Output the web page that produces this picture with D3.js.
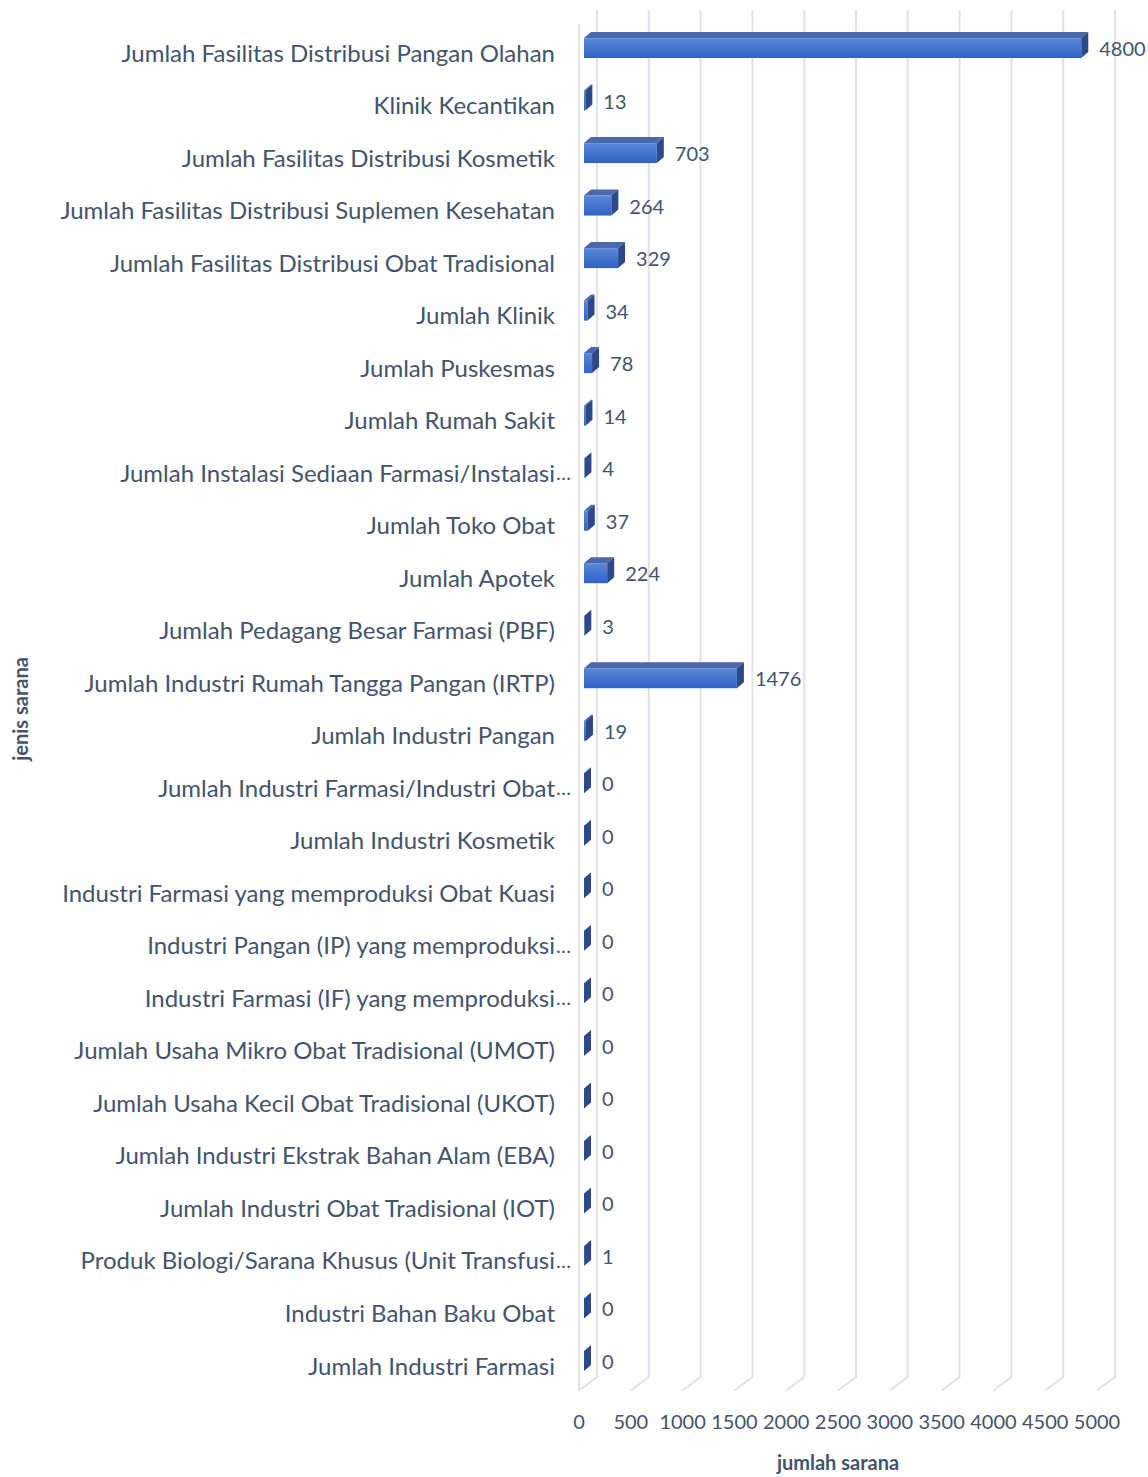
<!doctype html>
<html lang="id">
<head>
<meta charset="utf-8">
<title>jumlah sarana per jenis sarana</title>
<script src="https://cdn.jsdelivr.net/npm/d3@7"></script>
<style>
  body { margin: 0; background: #fff; }
  svg { display: block; }
</style>
</head>
<body>
<svg id="chart" width="1148" height="1477"></svg>
<script>
// categories, top to bottom
const categories = [
  "Jumlah Fasilitas Distribusi Pangan Olahan",
  "Klinik Kecantikan",
  "Jumlah Fasilitas Distribusi Kosmetik",
  "Jumlah Fasilitas Distribusi Suplemen Kesehatan",
  "Jumlah Fasilitas Distribusi Obat Tradisional",
  "Jumlah Klinik",
  "Jumlah Puskesmas",
  "Jumlah Rumah Sakit",
  "Jumlah Instalasi Sediaan Farmasi/Instalasi…",
  "Jumlah Toko Obat",
  "Jumlah Apotek",
  "Jumlah Pedagang Besar Farmasi (PBF)",
  "Jumlah Industri Rumah Tangga Pangan (IRTP)",
  "Jumlah Industri Pangan",
  "Jumlah Industri Farmasi/Industri Obat…",
  "Jumlah Industri Kosmetik",
  "Industri Farmasi yang memproduksi Obat Kuasi",
  "Industri Pangan (IP) yang memproduksi…",
  "Industri Farmasi (IF) yang memproduksi…",
  "Jumlah Usaha Mikro Obat Tradisional (UMOT)",
  "Jumlah Usaha Kecil Obat Tradisional (UKOT)",
  "Jumlah Industri Ekstrak Bahan Alam (EBA)",
  "Jumlah Industri Obat Tradisional (IOT)",
  "Produk Biologi/Sarana Khusus (Unit Transfusi…",
  "Industri Bahan Baku Obat",
  "Jumlah Industri Farmasi"
];
const values = [4800, 13, 703, 264, 329, 34, 78, 14, 4, 37, 224, 3, 1476, 19, 0, 0, 0, 0, 0, 0, 0, 0, 0, 1, 0, 0];
const xTicks = [0, 500, 1000, 1500, 2000, 2500, 3000, 3500, 4000, 4500, 5000];
const xTitle = "jumlah sarana";
const yTitle = "jenis sarana";

const svg = d3.select("#chart");
const textCol = "#44546a";
const gridCol = "#dfe2e9";

// 3D depth: front plane is shifted (-18, +13.5) from the back wall
const depthX = -18, depthY = 13.5;
const wallTop = 10, wallBottom = 1377;

const xBack = d3.scaleLinear().domain([0, 5000]).range([597, 1115]);
const xBar = v => xBack(v) - 13;          // bar front plane
const y = d3.scalePoint().domain(categories).range([48, 1361]);

// gradient for bar front faces
const defs = svg.append("defs");
const grad = defs.append("linearGradient").attr("id", "barFront")
  .attr("x1", 0).attr("y1", 0).attr("x2", 0).attr("y2", 1);
grad.append("stop").attr("offset", "0%").attr("stop-color", "#5b87d8");
grad.append("stop").attr("offset", "100%").attr("stop-color", "#2f62c6");

// back wall gridlines + floor diagonals
const grid = svg.append("g");
grid.selectAll("path.grid").data(xTicks).join("path")
  .attr("class", "grid")
  .attr("fill", "none")
  .attr("stroke", gridCol)
  .attr("stroke-width", 2)
  .attr("d", d => `M${xBack(d)},${wallTop}V${wallBottom}L${xBack(d) + depthX},${wallBottom + depthY}`);
// left wall front edge
grid.append("path")
  .attr("fill", "none")
  .attr("stroke", gridCol)
  .attr("stroke-width", 2)
  .attr("d", `M${xBack(0) + depthX},${wallTop + depthY + 1}V${wallBottom + depthY}`);

// bars
const bh = 20, dx = 7, dy = -6;
const bars = svg.append("g").selectAll("g").data(categories).join("g");
bars.each(function(c, i) {
  const g = d3.select(this);
  const x0 = xBar(0), x1 = xBar(values[i]), yc = y(c);
  const t = yc - bh / 2, b = yc + bh / 2;
  if (x1 - x0 > 0.5) {
    g.append("polygon")
      .attr("points", [[x0, t], [x1, t], [x1 + dx, t + dy], [x0 + dx, t + dy]].join(" "))
      .attr("fill", "#4a68ab");
    g.append("rect")
      .attr("x", x0).attr("y", t).attr("width", x1 - x0).attr("height", bh)
      .attr("fill", "url(#barFront)");
    g.append("line")
      .attr("x1", x0).attr("x2", x1).attr("y1", t + 0.5).attr("y2", t + 0.5)
      .attr("stroke", "#6f95dc").attr("stroke-width", 1);
  }
  g.append("polygon")
    .attr("points", [[x1, t], [x1 + dx, t + dy], [x1 + dx, b + dy], [x1, b]].join(" "))
    .attr("fill", "#2c4a8a");
});

// data labels
svg.append("g").selectAll("text").data(categories).join("text")
  .attr("x", (c, i) => xBar(values[i]) + dx + 11)
  .attr("y", c => y(c))
  .attr("dominant-baseline", "central")
  .attr("font-family", "Lato, 'Open Sans', sans-serif")
  .attr("font-size", 20)
  .attr("fill", textCol)
  .text((c, i) => values[i]);

// category labels (truncated ones get the ellipsis hanging past the edge)
const labelX = 555;
const labels = svg.append("g")
  .attr("font-family", "Lato, 'Gill Sans', 'Noto Sans', sans-serif")
  .attr("font-size", 24)
  .attr("fill", textCol);
categories.forEach(c => {
  const cut = c.endsWith("…");
  labels.append("text")
    .attr("x", labelX).attr("y", y(c) + 4)
    .attr("text-anchor", "end")
    .attr("dominant-baseline", "central")
    .text(cut ? c.slice(0, -1) : c);
  if (cut) {
    labels.append("text")
      .attr("x", labelX + 1).attr("y", y(c) + 4)
      .attr("dominant-baseline", "central")
      .attr("font-size", 20)
      .text("…");
  }
});

// x tick labels
svg.append("g").selectAll("text").data(xTicks).join("text")
  .attr("x", d => xBack(d) + depthX)
  .attr("y", 1421)
  .attr("text-anchor", "middle")
  .attr("dominant-baseline", "central")
  .attr("font-family", "Lato, 'Open Sans', sans-serif")
  .attr("font-size", 20)
  .attr("fill", textCol)
  .text(d => d);

// axis titles
svg.append("text")
  .attr("x", 838).attr("y", 1462)
  .attr("text-anchor", "middle")
  .attr("dominant-baseline", "central")
  .attr("font-family", "Lato, 'Open Sans', sans-serif")
  .attr("font-weight", "bold")
  .attr("font-size", 20)
  .attr("fill", textCol)
  .text(xTitle);

svg.append("text")
  .attr("transform", "translate(20,709) rotate(-90)")
  .attr("text-anchor", "middle")
  .attr("dominant-baseline", "central")
  .attr("font-family", "Lato, 'Open Sans', sans-serif")
  .attr("font-weight", "bold")
  .attr("font-size", 20)
  .attr("fill", textCol)
  .text(yTitle);
</script>
</body>
</html>
